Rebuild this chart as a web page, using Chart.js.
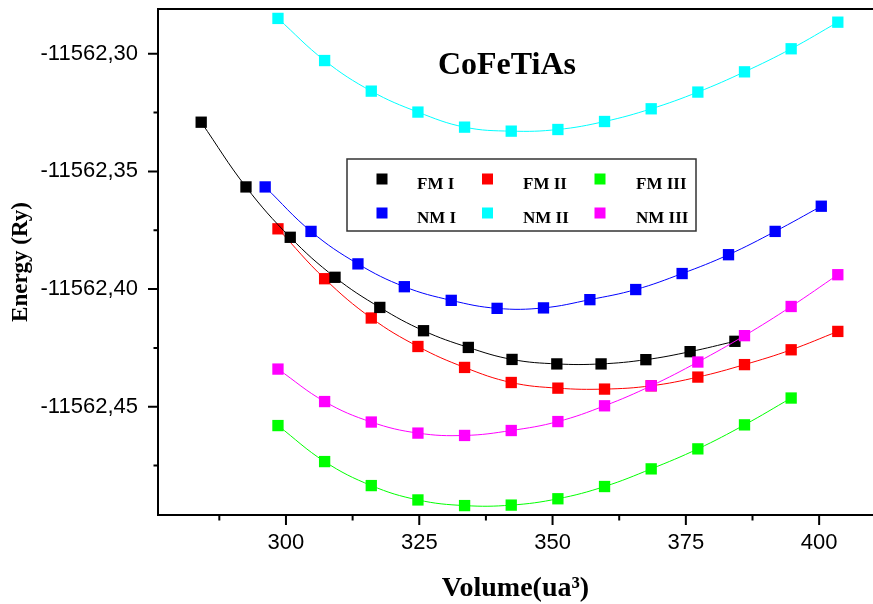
<!DOCTYPE html>
<html>
<head>
<meta charset="utf-8">
<script src="https://cdn.jsdelivr.net/npm/chart.js@4"></script>
<style>
  html, body { margin: 0; padding: 0; background: #ffffff; }
  #wrap { width: 873px; height: 604px; }
</style>
</head>
<body>
<div id="wrap"><canvas id="c" width="873" height="604"></canvas></div>
<script>
// ---------- data ----------
const seriesNames = ['FM I', 'FM II', 'FM III', 'NM I', 'NM II', 'NM III'];
const seriesColors = ['#000000', '#ff0000', '#00ff00', '#0000ff', '#00ffff', '#ff00ff'];

const volFM1 = [284.1, 292.5, 300.8, 309.2, 317.6, 325.8, 334.2, 342.4, 350.8, 359.1, 367.5, 375.8, 384.2];
const eFM1 = [-11562.3291, -11562.3566, -11562.3780, -11562.3950, -11562.4078, -11562.4177, -11562.4248,
              -11562.4299, -11562.4318, -11562.4318, -11562.4300, -11562.4266, -11562.4222];

const volFM2 = [298.5, 307.25, 316.0, 324.75, 333.5, 342.25, 351.0, 359.75, 368.5, 377.25, 386.0, 394.75, 403.5];
const eFM2 = [-11562.3744, -11562.3956, -11562.4123, -11562.4244, -11562.4333, -11562.4397, -11562.4421,
              -11562.4425, -11562.4411, -11562.4374, -11562.4321, -11562.4258, -11562.4180];

const volFM3 = [298.5, 307.25, 316.0, 324.75, 333.5, 342.25, 351.0, 359.75, 368.5, 377.25, 386.0, 394.75];
const eFM3 = [-11562.4580, -11562.4733, -11562.4835, -11562.4896, -11562.4920, -11562.4918, -11562.4891,
              -11562.4839, -11562.4764, -11562.4679, -11562.4577, -11562.4463];

const volNM1 = [296.1, 304.7, 313.5, 322.2, 331.0, 339.6, 348.3, 357.0, 365.6, 374.3, 383.0, 391.75, 400.4];
const eNM1 = [-11562.3566, -11562.3755, -11562.3893, -11562.3990, -11562.4048, -11562.4082, -11562.4080,
              -11562.4045, -11562.4002, -11562.3934, -11562.3854, -11562.3755, -11562.3648];

const volNM2 = [298.5, 307.25, 316.0, 324.75, 333.5, 342.25, 351.0, 359.75, 368.5, 377.25, 386.0, 394.75, 403.5];
const eNM2 = [-11562.2850, -11562.3029, -11562.3159, -11562.3248, -11562.3312, -11562.3329, -11562.3322,
              -11562.3288, -11562.3234, -11562.3163, -11562.3077, -11562.2979, -11562.2866];

const volNM3 = [298.5, 307.25, 316.0, 324.75, 333.5, 342.25, 351.0, 359.75, 368.5, 377.25, 386.0, 394.75, 403.5];
const eNM3 = [-11562.4340, -11562.4478, -11562.4565, -11562.4612, -11562.4622, -11562.4601, -11562.4563,
              -11562.4496, -11562.4411, -11562.4310, -11562.4198, -11562.4074, -11562.3939];

const xMin = 276, xMax = 410.1, xMajor = 25, xMinor = 12.5;
const yMin = -11562.496, yMax = -11562.281, yMajor = 0.05, yMinor = 0.025;

const chartTitle = 'CoFeTiAs';
const xTitle = 'Volume(ua\u00B3)';
const yTitle = 'Energy (Ry)';

// ---------- helpers ----------
const seriesVol = [volFM1, volFM2, volFM3, volNM1, volNM2, volNM3];
const seriesE = [eFM1, eFM2, eFM3, eNM1, eNM2, eNM3];
function isMajor(v, step) {
  const r = v / step;
  return Math.abs(r - Math.round(r)) < 1e-6;
}

const datasets = seriesNames.map((name, i) => ({
  label: name,
  data: seriesVol[i].map((x, k) => ({ x: x, y: seriesE[i][k] })),
  borderColor: seriesColors[i],
  backgroundColor: seriesColors[i],
  pointBackgroundColor: seriesColors[i],
  borderWidth: 1,
  pointStyle: 'rect',
  pointRadius: 8,
  pointBorderWidth: 0,
  tension: 0.4,
  fill: false,
  order: name === 'NM III' ? 0 : 1
}));

const decor = {
  id: 'decor',
  afterDraw(chart) {
    const ctx = chart.ctx, a = chart.chartArea;
    const xs = chart.scales.x, ys = chart.scales.y;
    ctx.save();
    ctx.strokeStyle = '#000';
    ctx.lineWidth = 2;
    ctx.beginPath();
    ctx.moveTo(a.left - 1, a.top);
    ctx.lineTo(a.right, a.top);
    xs.ticks.forEach(t => {
      const p = xs.getPixelForValue(t.value);
      const len = isMajor(t.value, xMajor) ? 10 : 5.5;
      ctx.moveTo(p, a.bottom);
      ctx.lineTo(p, a.bottom + len);
    });
    ys.ticks.forEach(t => {
      const p = ys.getPixelForValue(t.value);
      const len = isMajor(t.value, yMajor) ? 10 : 4.5;
      ctx.moveTo(a.left, p);
      ctx.lineTo(a.left - len, p);
    });
    ctx.stroke();

    ctx.fillStyle = '#000';
    ctx.font = 'bold 32px "Liberation Serif"';
    ctx.textAlign = 'center';
    ctx.textBaseline = 'alphabetic';
    ctx.fillText(chartTitle, 507, 74);

    const bx = 347, by = 159, bw = 349, bh = 72;
    ctx.fillStyle = '#fff';
    ctx.fillRect(bx, by, bw, bh);
    ctx.strokeStyle = '#333';
    ctx.lineWidth = 1.5;
    ctx.strokeRect(bx, by, bw, bh);
    const markX = [382, 487.5, 600];
    const textX = [417, 523, 636];
    const rowY = [179, 213];
    ctx.font = 'bold 17px "Liberation Serif"';
    ctx.textAlign = 'left';
    chart.data.datasets.forEach((d, i) => {
      const col = i % 3, row = Math.floor(i / 3);
      ctx.fillStyle = d.borderColor;
      ctx.fillRect(markX[col] - 5.5, rowY[row] - 5.5, 11, 11);
      ctx.fillStyle = '#000';
      ctx.fillText(d.label, textX[col], rowY[row] + 10);
    });
    ctx.restore();
  }
};

new Chart(document.getElementById('c'), {
  type: 'line',
  data: { datasets: datasets },
  options: {
    responsive: false,
    animation: false,
    devicePixelRatio: 1,
    layout: { autoPadding: false, padding: { top: 9, left: 0, right: 0, bottom: 0 } },
    plugins: { legend: { display: false }, tooltip: { enabled: false } },
    scales: {
      x: {
        type: 'linear',
        min: xMin,
        max: xMax,
        afterFit(s) { s.height = 89; s.paddingLeft = 0; s.paddingRight = 0; },
        border: { display: true, color: '#000', width: 2 },
        grid: { drawOnChartArea: false, drawTicks: true, tickLength: 10, tickColor: 'rgba(0,0,0,0)' },
        ticks: {
          stepSize: xMinor,
          includeBounds: false,
          autoSkip: false,
          maxRotation: 0,
          padding: 5,
          color: '#000',
          font: { family: 'Liberation Sans', size: 22 },
          callback: (v) => isMajor(v, xMajor) ? String(Math.round(v)) : ''
        },
        title: {
          display: true,
          text: xTitle,
          color: '#000',
          font: { family: 'Liberation Serif', size: 28, weight: 'bold', lineHeight: 1 },
          padding: { top: 0, bottom: 1 }
        }
      },
      y: {
        type: 'linear',
        min: yMin,
        max: yMax,
        afterFit(s) { s.width = 158; s.paddingTop = 0; s.paddingBottom = 0; },
        border: { display: true, color: '#000', width: 2 },
        grid: { drawOnChartArea: false, drawTicks: true, tickLength: 10, tickColor: 'rgba(0,0,0,0)' },
        ticks: {
          stepSize: yMinor,
          includeBounds: false,
          autoSkip: false,
          padding: 10,
          color: '#000',
          font: { family: 'Liberation Sans', size: 22 },
          callback: (v) => isMajor(v, yMajor) ? v.toFixed(2).replace('.', ',') : ''
        },
        title: {
          display: true,
          text: yTitle,
          color: '#000',
          font: { family: 'Liberation Serif', size: 23, weight: 'bold', lineHeight: 1 },
          padding: { top: 10, bottom: 0 }
        }
      }
    }
  },
  plugins: [decor]
});
</script>
</body>
</html>
